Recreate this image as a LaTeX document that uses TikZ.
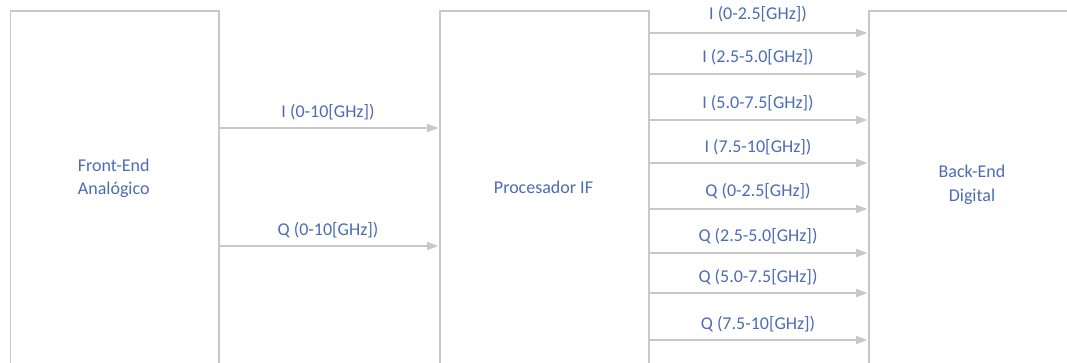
\documentclass[tikz,border=0pt]{standalone}
\usepackage{fontspec}
\setmainfont{Carlito}
\usetikzlibrary{arrows.meta}
\definecolor{linegray}{RGB}{200,200,200}
\definecolor{txtblue}{RGB}{76,108,184}
\tikzset{
  blk/.style={draw=linegray, line width=1.6pt, fill=white, rectangle, inner sep=0pt, anchor=north west},
  txt/.style={text=txtblue, font=\fontsize{18}{23.5}\selectfont, align=center, inner sep=0pt},
  arr/.style={draw=linegray, line width=1.6pt, -{Triangle[length=11pt,width=8pt]}, shorten >=0.8pt},
  lbl/.style={txt},
}
\begin{document}
\begin{tikzpicture}[x=1pt,y=-1pt]
\clip (0,0) rectangle (1067,362);
\fill[white] (0,0) rectangle (1067,362);
\node[blk, minimum width=208.5pt, minimum height=400pt] (fe) at (9.5,10) {};
\node[blk, minimum width=209pt, minimum height=400pt] (pif) at (439,10) {};
\node[blk, minimum width=209pt, minimum height=400pt] (be) at (868,10) {};
\node[txt] (fet) at (113.75,178.5) {Front-End\\Analógico};
\node[txt] (pift) at (543.5,187) {Procesador IF};
\node[txt] (bet) at (972,185) {Back-End\\Digital};
% left connectors
\draw[arr] (fe.east |- 0,128) -- (pif.west |- 0,128);
\draw[arr] (fe.east |- 0,246) -- (pif.west |- 0,246);
\node[lbl] (li) at (328,112) {I (0-10[GHz])};
\node[lbl] (lq) at (328,230) {Q (0-10[GHz])};
% right connectors
\foreach \y/\ly/\t [count=\i] in {33/14/{I (0-2.5[GHz])},74/57/{I (2.5-5.0[GHz])},120/103/{I (5.0-7.5[GHz])},163/147/{I (7.5-10[GHz])},209/191/{Q (0-2.5[GHz])},253/236/{Q (2.5-5.0[GHz])},293/277/{Q (5.0-7.5[GHz])},340/324/{Q (7.5-10[GHz])}}{
  \draw[arr] (pif.east |- 0,\y) -- (be.west |- 0,\y);
  \node[lbl] (r\i) at (758,\ly) {\t};
}
\end{tikzpicture}
\end{document}
